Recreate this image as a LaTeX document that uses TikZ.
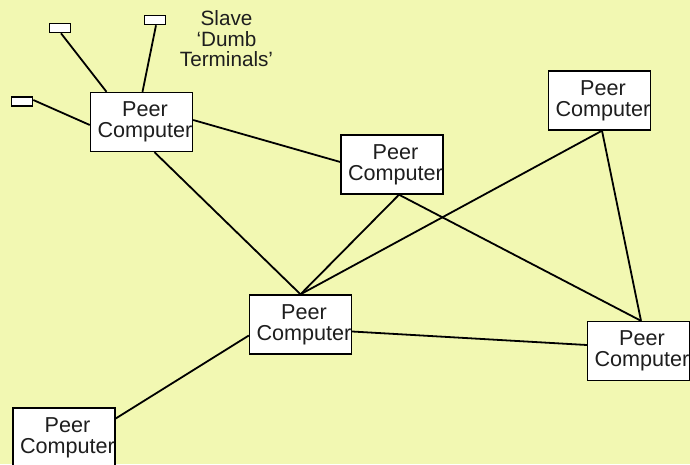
\documentclass[tikz,border=0pt]{standalone}
\usepackage{fontspec}
\setmainfont{Liberation Sans}
\usetikzlibrary{calc}
\definecolor{bgc}{RGB}{242,248,178}
\definecolor{txt}{RGB}{30,30,30}
\tikzset{
  pcbox/.style={draw=black, line width=1.4pt, fill=white, minimum width=102pt, minimum height=59pt, inner sep=0pt},
  termbox/.style={draw=black, line width=1.6pt, fill=white, minimum width=21pt, minimum height=9pt, inner sep=0pt},
  pclabel/.style={align=center, inner sep=0pt, text=txt, font=\fontsize{21.6}{21}\selectfont},
  note/.style={align=center, inner sep=0pt, text=txt, font=\fontsize{20.7}{20.5}\selectfont},
  link/.style={draw=black, line width=1.8pt}
}
\begin{document}
\begin{tikzpicture}[x=1pt,y=-1pt]
\fill[bgc] (0,0) rectangle (690,464);
\useasboundingbox (0,0) rectangle (690,464);
% computers
\node[pcbox] (pc1) at (141.5,122) {};
\node[pcbox] (pc2) at (392,164.5) {};
\node[pcbox] (pc3) at (599.5,100.5) {};
\node[pcbox] (pc4) at (300.5,324.5) {};
\node[pcbox] (pc5) at (638.5,351) {};
\node[pcbox] (pc6) at (64,437.5) {};
% terminals
\node[termbox] (t1) at (60,28) {};
\node[termbox] (t2) at (155,20) {};
\node[termbox] (t3) at (22,101.5) {};
% connectors
\draw[link] ([xshift=1pt]t1.south) -- ([xshift=-35pt]pc1.north);
\draw[link] ([xshift=1pt]t2.south) -- ([xshift=1pt]pc1.north);
\draw[link] ([yshift=1.5pt]t3.east) -- ([yshift=-3pt]pc1.west);
\draw[link] ([yshift=2pt]pc1.east) -- ([yshift=2.5pt]pc2.west);
\draw[link] ([xshift=13pt]pc1.south) -- (pc4.north);
\draw[link] (pc4.north) -- ([xshift=7pt]pc2.south);
\draw[link] ([xshift=7pt]pc2.south) -- ([xshift=2.5pt]pc5.north);
\draw[link] (pc4.north) -- ([xshift=2.5pt]pc3.south);
\draw[link] ([xshift=2.5pt]pc3.south) -- ([xshift=2.5pt]pc5.north);
\draw[link] ([yshift=-7pt]pc4.east) -- ([yshift=6pt]pc5.west);
\draw[link] ([yshift=19pt]pc6.east) -- ([yshift=-11pt]pc4.west);
% labels
\node[pclabel] (l1) at ([xshift=3.5pt]pc1.center) {Peer\\Computer};
\node[pclabel] (l2) at ([xshift=3.5pt]pc2.center) {Peer\\Computer};
\node[pclabel] (l3) at ([xshift=3.5pt]pc3.center) {Peer\\Computer};
\node[pclabel] (l4) at ([xshift=3.5pt]pc4.center) {Peer\\Computer};
\node[pclabel] (l5) at ([xshift=3.5pt]pc5.center) {Peer\\Computer};
\node[pclabel] (l6) at ([xshift=3.5pt]pc6.center) {Peer\\Computer};
\node[note] (slave) at (226.5,39) {Slave\\‘Dumb\\Terminals’};
\end{tikzpicture}
\end{document}
